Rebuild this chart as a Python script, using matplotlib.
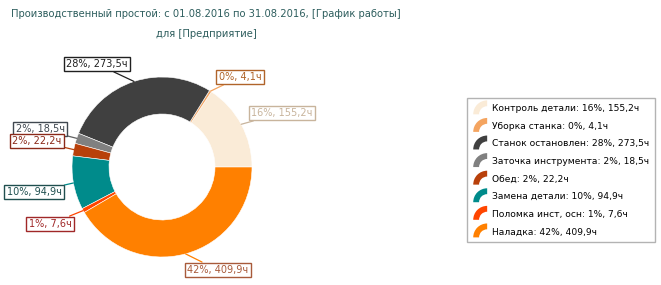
import matplotlib
matplotlib.use("Agg")
import matplotlib.pyplot as plt
import numpy as np
from matplotlib.patches import Wedge
from matplotlib.legend_handler import HandlerBase

plt.rcParams['font.family'] = ['DejaVu Sans']

title_line1 = "Производственный простой: с 01.08.2016 по 31.08.2016, [График работы]"
title_line2 = "для [Предприятие]"
categories = ["Контроль детали", "Уборка станка", "Станок остановлен", "Заточка инструмента",
              "Обед", "Замена детали", "Поломка инст, осн", "Наладка"]
hours = [155.2, 4.1, 273.5, 18.5, 22.2, 94.9, 7.6, 409.9]
hours_txt = ["155,2", "4,1", "273,5", "18,5", "22,2", "94,9", "7,6", "409,9"]
percents = [16, 0, 28, 2, 2, 10, 1, 42]

colors = ["#FAEBD7", "#F4A460", "#404040", "#808080", "#B8400A", "#008B8B", "#FF4500", "#FF8000"]
label_colors = ["#c8b49c", "#b0642a", "#202020", "#404850", "#8b2a1a", "#1f4f4f", "#a02828", "#a85a3a"]
line_colors = ["#c8b49c", "#F4A460", "#202020", "#606060", "#B8400A", "#008B8B", "#FF4500", "#FF8000"]
# label box centres in pixel coords (x, y from top)
label_pos = [(282, 113), (240, 77), (97, 64), (40, 129), (37, 141), (34, 192), (50, 224), (218, 270)]

W, H = 661, 285
fig = plt.figure(figsize=(W / 100, H / 100), dpi=100)
ax = fig.add_axes([0, 0, 1, 1])

cx, cy, R = 162, H - 167, 90
wedges, _ = ax.pie(hours, colors=colors, startangle=0, counterclock=True,
                   center=(cx, cy), radius=R, frame=True,
                   wedgeprops=dict(width=37, edgecolor='white', linewidth=0.4))
ax.set_xlim(0, W)
ax.set_ylim(0, H)
ax.set_aspect('equal')
ax.axis('off')

for w, pct, ht, lc, lnc, (lx, ly) in zip(wedges, percents, hours_txt, label_colors, line_colors, label_pos):
    ang = np.deg2rad((w.theta1 + w.theta2) / 2)
    px, py = cx + R * np.cos(ang), cy + R * np.sin(ang)
    ax.annotate(f"{pct}%, {ht}ч", xy=(px, py), xytext=(lx, H - ly),
                ha='center', va='center', fontsize=7, color=lc,
                bbox=dict(boxstyle='square,pad=0.25', fc='white', ec=lc, lw=1),
                arrowprops=dict(arrowstyle='-', color=lnc, lw=0.9, shrinkA=0, shrinkB=0))

fig.text(206 / W, 1 - 14 / H, title_line1, ha='center', va='center', fontsize=7.2, color='#2e5e5e')
fig.text(206 / W, 1 - 34 / H, title_line2, ha='center', va='center', fontsize=7.2, color='#2e5e5e')


class HandlerArc(HandlerBase):
    def create_artists(self, legend, orig_handle, xdescent, ydescent, width, height, fontsize, trans):
        r = width * 0.95
        wdg = Wedge((width - xdescent, -ydescent - height * 0.15), r, 90, 180, width=r * 0.42,
                    facecolor=orig_handle.get_facecolor(), edgecolor='none', transform=trans)
        return [wdg]


handles = [Wedge((0, 0), 1, 0, 90, facecolor=c) for c in colors]
labels = [f"{c}: {p}%, {h}ч" for c, p, h in zip(categories, percents, hours_txt)]
leg = ax.legend(handles, labels, loc='upper left', bbox_to_anchor=(467 / W, 1 - 98 / H),
                bbox_transform=fig.transFigure, fontsize=6.6, frameon=True, fancybox=False,
                handler_map={Wedge: HandlerArc()}, handlelength=1.6, handleheight=1.2,
                handletextpad=0.5, labelspacing=0.85, borderpad=0.6, borderaxespad=0)
leg.get_frame().set_edgecolor('#a0a0a0')
leg.get_frame().set_linewidth(1)

fig.savefig("out.png", dpi=100)
